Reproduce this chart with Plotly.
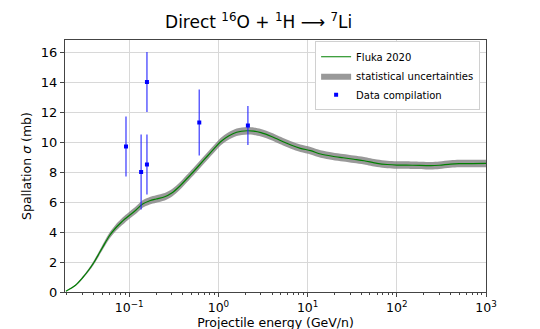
import plotly.graph_objects as go

# Fluka 2020 curve (energy in GeV/n, cross section in mb)
energy = [0.0195, 0.025, 0.03, 0.035, 0.04, 0.05, 0.06, 0.07, 0.08, 0.09, 0.1, 0.12, 0.14,
          0.17, 0.2, 0.25, 0.3, 0.37, 0.45, 0.53, 0.63, 0.75, 0.9, 1.05, 1.3, 1.6,
          2.1, 2.5, 3.0, 4.0, 5.4, 6.5, 8.3, 10.8, 14, 19, 25, 33, 43, 60, 78, 100,
          150, 240, 300, 400, 500, 700, 1000]
sigma = [0.05, 0.45, 0.95, 1.45, 1.95, 2.95, 3.75, 4.25, 4.6, 4.88, 5.1, 5.48, 5.85,
         6.08, 6.2, 6.35, 6.6, 7.07, 7.6, 8.05, 8.55, 9.05, 9.57, 10.0, 10.4, 10.65,
         10.75, 10.72, 10.62, 10.35, 10.0, 9.8, 9.58, 9.42, 9.2, 9.05, 8.95, 8.85, 8.75, 8.58, 8.5, 8.46,
         8.45, 8.42, 8.45, 8.53, 8.56, 8.56, 8.57]
sigma_err = [0.02, 0.05, 0.08, 0.1, 0.13, 0.17, 0.2, 0.22, 0.23, 0.24, 0.24, 0.25, 0.25,
             0.25, 0.25, 0.25, 0.25, 0.25, 0.25, 0.25, 0.25, 0.25, 0.25, 0.25, 0.25, 0.25,
             0.25, 0.25, 0.25, 0.25, 0.25, 0.25, 0.25, 0.25, 0.25, 0.25, 0.25, 0.25, 0.25, 0.25, 0.25, 0.25,
             0.25, 0.25, 0.25, 0.25, 0.25, 0.25, 0.25]

# data compilation
data_e = [0.092, 0.136, 0.158, 0.158, 0.61, 2.14]
data_sigma = [9.7, 8.0, 14.0, 8.5, 11.3, 11.1]
data_err = [2.0, 2.5, 2.0, 2.0, 2.2, 1.3]

x_ticks = [0.1, 1, 10, 100, 1000]
x_labels = ["10<sup>−1</sup>", "10<sup>0</sup>", "10<sup>1</sup>", "10<sup>2</sup>", "10<sup>3</sup>"]

upper = [s + e for s, e in zip(sigma, sigma_err)]
lower = [s - e for s, e in zip(sigma, sigma_err)]

fig = go.Figure()
fig.add_trace(go.Scatter(x=energy, y=lower, mode="lines", line=dict(width=0, shape="spline", smoothing=0.8),
                         showlegend=False, hoverinfo="skip"))
fig.add_trace(go.Scatter(x=energy, y=upper, mode="lines", line=dict(width=0, shape="spline", smoothing=0.8),
                         fill="tonexty", fillcolor="rgba(128,128,128,0.8)",
                         name="statistical uncertainties", legendrank=2))
fig.add_trace(go.Scatter(x=energy, y=sigma, mode="lines",
                         line=dict(color="green", width=1.2, shape="spline", smoothing=0.8),
                         name="Fluka 2020", legendrank=1))
fig.add_trace(go.Scatter(x=data_e, y=data_sigma, mode="markers",
                         marker=dict(color="blue", symbol="square", size=4),
                         error_y=dict(type="data", array=data_err, color="rgba(40,40,255,0.75)",
                                      thickness=1.5, width=0),
                         name="Data compilation", legendrank=3))

# the page puts the figure 8px in from the top-left corner, so margins account for that
fig.update_layout(
    width=540, height=329,
    margin=dict(l=57, r=62, t=32, b=45),
    plot_bgcolor="white", paper_bgcolor="white",
    font=dict(family="DejaVu Sans", size=13, color="black"),
    title=dict(text="Direct <sup>16</sup>O + <sup>1</sup>H ⟶ <sup>7</sup>Li",
               x=0.46, xanchor="center", xref="paper", y=0.957, yanchor="middle",
               font=dict(size=17)),
    legend=dict(x=0.986, y=0.995, xanchor="right", yanchor="top", traceorder="normal",
                bgcolor="white", bordercolor="#d0d0d0", borderwidth=1,
                font=dict(size=10), tracegroupgap=0),
)
fig.update_xaxes(type="log", range=[-1.72, 3], tickvals=x_ticks, ticktext=x_labels,
                 showline=True, linecolor="#444", linewidth=1, mirror=True,
                 ticks="outside", ticklen=4, showgrid=True, gridcolor="#d8d8d8",
                 tickfont=dict(size=12.5),
                 minor=dict(ticks="outside", ticklen=2, showgrid=False,
                            tickvals=[m * 10 ** k for k in range(-2, 3) for m in range(2, 10)]),
                 title=dict(text="Projectile energy (GeV/n)", standoff=0, font=dict(size=12.5)),
                 zeroline=False, automargin=False)
fig.update_yaxes(range=[0, 16.8], dtick=2,
                 showline=True, linecolor="#444", linewidth=1, mirror=True,
                 ticks="outside", ticklen=4, showgrid=True, gridcolor="#d8d8d8",
                 title=dict(text="Spallation <i>σ</i> (mb)", standoff=6, font=dict(size=12.5)),
                 zeroline=False, automargin=False)

fig.write_html("out.html")
